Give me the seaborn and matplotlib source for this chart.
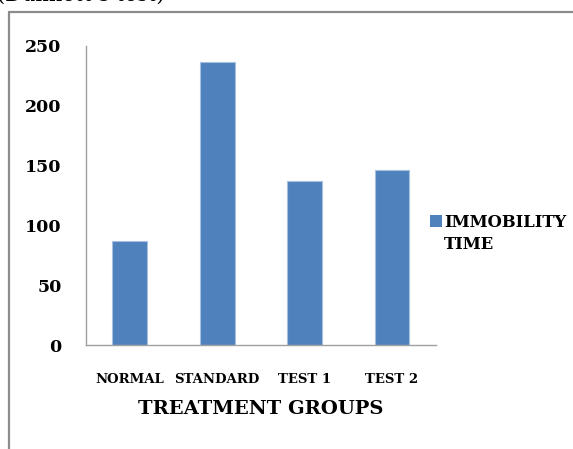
import matplotlib
matplotlib.use("Agg")
import matplotlib.pyplot as plt
from matplotlib.lines import Line2D
from matplotlib.patches import Patch
import seaborn as sns
import pandas as pd

groups = ["NORMAL", "STANDARD", "TEST 1", "TEST 2"]
immobility_time = [87, 236, 137, 146]
y_ticks = [0, 50, 100, 150, 200, 250]
series_name = ["IMMOBILITY", "TIME"]

sns.set_theme(style="white")
plt.rcParams["font.family"] = ["DejaVu Serif"]
plt.rcParams["text.color"] = "black"
plt.rcParams["xtick.labelcolor"] = "black"
plt.rcParams["ytick.labelcolor"] = "black"
plt.rcParams["axes.labelcolor"] = "black"

df = pd.DataFrame({"group": groups, "time": immobility_time})

fig = plt.figure(figsize=(5.73, 4.49), dpi=100)
ax = fig.add_axes([0.1501, 0.2316, 0.6103, 0.6666])

bar_color = "#4F81BD"
sns.barplot(data=df, x="group", y="time", color=bar_color, saturation=1,
            width=0.4, edgecolor="#A7C0E0", linewidth=0.8, ax=ax)

ax.set_ylim(0, 250)
ax.set_xlim(-0.5, len(groups) - 0.5)
ax.set_yticks(y_ticks)
ax.set_yticklabels([str(v) for v in y_ticks], fontsize=12.5, fontweight="bold")

# category boundaries carry the tick marks, centres carry the labels
ax.set_xticks([i - 0.5 for i in range(len(groups) + 1)])
ax.set_xticklabels([])
ax.set_xticks(range(len(groups)), minor=True)
ax.set_xticklabels(groups, minor=True, fontsize=9.5, fontweight="bold")
ax.tick_params(axis="x", which="minor", length=0, pad=20)
ax.tick_params(axis="x", which="major", length=4.5, width=0.8, color="#A0A0A0", direction="out")
ax.tick_params(axis="y", length=4.5, width=0.8, color="#A0A0A0", direction="out", pad=13)

ax.set_xlabel("TREATMENT GROUPS", fontsize=14, fontweight="bold", labelpad=10)
ax.set_ylabel("")

for side in ["top", "right"]:
    ax.spines[side].set_visible(False)
for side in ["left", "bottom"]:
    ax.spines[side].set_color("#A0A0A0")
    ax.spines[side].set_linewidth(1.0)

# series key: swatch beside the first line, second line wraps underneath
handles = [Patch(facecolor=bar_color, edgecolor="none"),
           Patch(facecolor="none", edgecolor="none")]
fig.legend(handles, series_name, loc="upper left", bbox_to_anchor=(0.724, 0.557),
           frameon=False, handlelength=0.75, handleheight=0.75, handletextpad=0.15,
           labelspacing=0.3,
           prop={"family": "DejaVu Serif", "weight": "bold", "size": 11.8})

# outer frame of the chart area
fig.add_artist(Line2D([9 / 573, 9 / 573], [0, 1 - 12 / 449], transform=fig.transFigure,
                      color="#8C8C8C", linewidth=1.6))
fig.add_artist(Line2D([9 / 573, 1], [1 - 12 / 449, 1 - 12 / 449], transform=fig.transFigure,
                      color="#8C8C8C", linewidth=1.6))

fig.text(-0.005, 1 - 1 / 449, "(Dunnett\u2019s test)", fontsize=15, ha="left", va="baseline",
         family="DejaVu Serif")

fig.savefig("out.png", dpi=100)
